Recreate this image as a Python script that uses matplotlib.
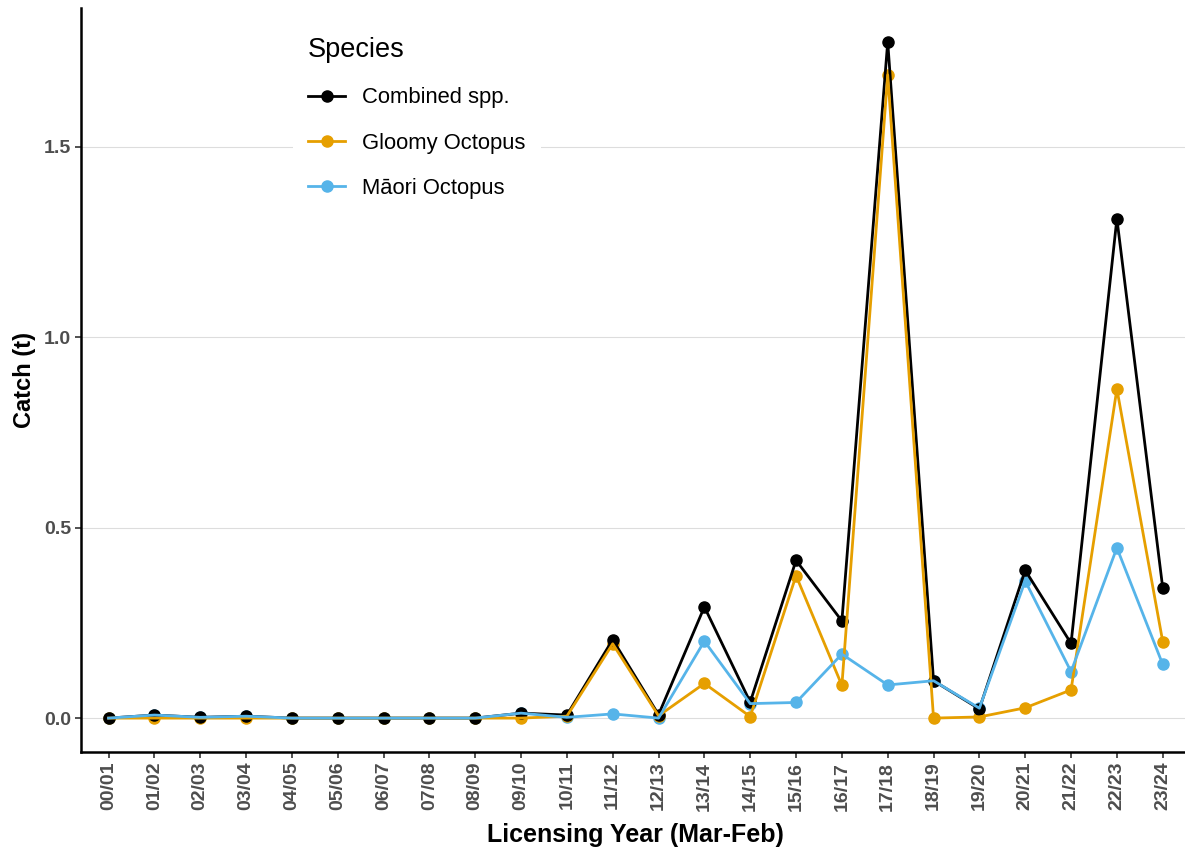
import matplotlib
matplotlib.use("Agg")
import matplotlib.pyplot as plt

plt.rcParams["font.family"] = ["Liberation Sans", "DejaVu Sans"]

years = [
    "00/01", "01/02", "02/03", "03/04", "04/05", "05/06", "06/07", "07/08",
    "08/09", "09/10", "10/11", "11/12", "12/13", "13/14", "14/15", "15/16",
    "16/17", "17/18", "18/19", "19/20", "20/21", "21/22", "22/23", "23/24",
]

combined = [
    0.000, 0.008, 0.002, 0.005, 0.000, 0.000, 0.000, 0.000,
    0.000, 0.013, 0.008, 0.206, 0.009, 0.292, 0.042, 0.414,
    0.255, 1.775, 0.098, 0.024, 0.388, 0.196, 1.311, 0.342,
]
gloomy = [
    0.000, 0.000, 0.000, 0.000, 0.000, 0.000, 0.000, 0.000,
    0.000, 0.000, 0.005, 0.195, 0.006, 0.091, 0.004, 0.374,
    0.086, 1.688, 0.000, 0.003, 0.027, 0.074, 0.864, 0.201,
]
maori = [
    0.000, 0.008, 0.002, 0.005, 0.000, 0.000, 0.000, 0.000,
    0.000, 0.013, 0.002, 0.011, 0.000, 0.202, 0.038, 0.041,
    0.168, 0.087, 0.098, 0.026, 0.360, 0.122, 0.447, 0.141,
]

series = [
    ("Combined spp.", combined, "#000000"),
    ("Gloomy Octopus", gloomy, "#E69F00"),
    ("M\u0101ori Octopus", maori, "#56B4E9"),
]

fig = plt.figure(figsize=(11.85, 8.48), dpi=100)
ax = fig.add_axes([0.0684, 0.1132, 0.936, 0.8774])

x = list(range(len(years)))
n = len(series)
for i, (name, vals, col) in enumerate(series):
    # points go underneath every line; combined points sit on top of the others
    ax.plot(x, vals, "o", color=col, ms=8, zorder=3 + (n - i) * 0.1)
    ax.plot(x, vals, "-", color=col, lw=2.0, zorder=4 + i * 0.1)
    # proxy artist for the legend entry
    ax.plot([], [], "-o", color=col, lw=2.0, ms=8, label=name)

ax.set_xlim(-0.6, len(years) - 1 + 0.6)
ax.set_ylim(-0.089, 1.864)
ax.set_xticks(x)
ax.set_xticklabels(years, rotation=90, fontweight="bold",
                   fontsize=14, color="#4D4D4D")
ax.set_yticks([0.0, 0.5, 1.0, 1.5])
ax.set_yticklabels(["0.0", "0.5", "1.0", "1.5"], fontweight="bold",
                   fontsize=14, color="#4D4D4D")
ax.tick_params(length=4, width=1.2, color="#333333", pad=3)

ax.grid(axis="y", color="#DDDDDD", lw=0.8)
ax.set_axisbelow(True)
for side in ("top", "right"):
    ax.spines[side].set_visible(False)
for side in ("left", "bottom"):
    ax.spines[side].set_linewidth(1.8)
    ax.spines[side].set_color("black")

ax.set_xlabel("Licensing Year (Mar-Feb)", fontsize=18, fontweight="bold",
              labelpad=9)
ax.set_ylabel("Catch (t)", fontsize=17, fontweight="bold", labelpad=6)

leg = ax.legend(
    title="Species", loc="upper left", bbox_to_anchor=(0.181, 0.996),
    fontsize=15.8, title_fontsize=19.5, frameon=True, facecolor="white",
    edgecolor="none", framealpha=1.0, labelspacing=1.1,
    handlelength=1.7, handletextpad=0.77, borderpad=0.7,
)
leg._legend_box.align = "left"
leg.set_zorder(10)

fig.savefig("out.png", dpi=100)
